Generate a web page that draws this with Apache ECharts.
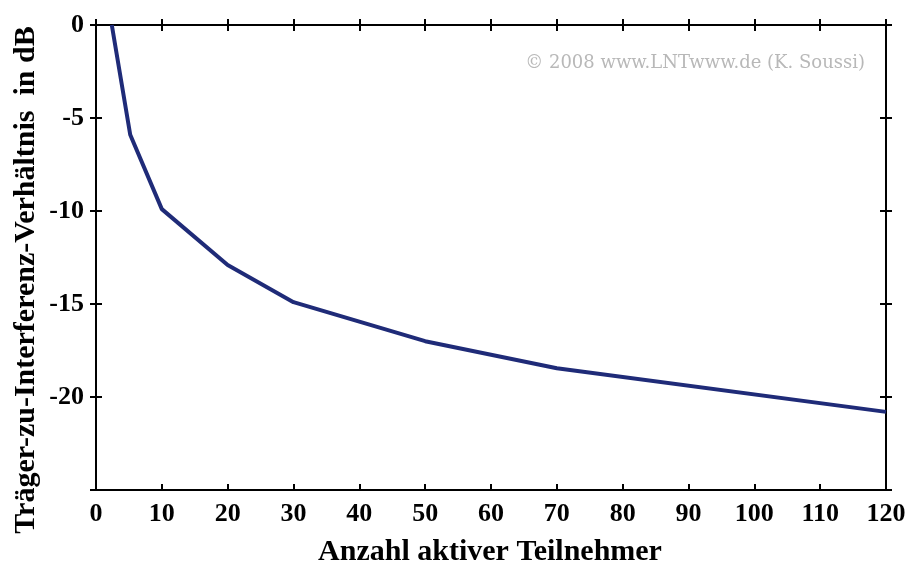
<!DOCTYPE html>
<html>
<head>
<meta charset="utf-8">
<script src="https://cdn.jsdelivr.net/npm/echarts@6/dist/echarts.min.js"></script>
<style>
  html, body { margin: 0; padding: 0; background: #fff; }
  #chart { width: 913px; height: 568px; }
</style>
</head>
<body>
<div id="chart"></div>
<script>
// Anzahl aktiver Teilnehmer (K)
var teilnehmer = [2.4, 5.2, 10, 20, 30, 50, 70, 120];
// C/I in dB
var ciDb = [0, -5.9, -9.9, -12.9, -14.9, -17.0, -18.45, -20.8];

var xTicks = [0, 10, 20, 30, 40, 50, 60, 70, 80, 90, 100, 110, 120];
var yTicks = [0, -5, -10, -15, -20];

var serif = '"Liberation Serif", "DejaVu Serif", serif';
var lineData = teilnehmer.map(function (k, i) { return [k, ciDb[i]]; });

var chart = echarts.init(document.getElementById('chart'));

function xAx(pos, inside, showLabel) {
  return {
    type: 'value', position: pos, min: 0, max: 120, interval: 10,
    axisLine: { show: true, onZero: false, lineStyle: { color: '#000', width: 2 } },
    axisTick: { show: true, inside: inside, length: 6, lineStyle: { color: '#000', width: 2 } },
    axisLabel: {
      show: showLabel, margin: 11, color: '#000', fontFamily: serif,
      fontWeight: 'bold', fontSize: 26,
      formatter: function (v) { return xTicks.indexOf(v) >= 0 ? String(v) : ''; }
    },
    splitLine: { show: false }
  };
}

function yAx(pos, inside, showLabel) {
  return {
    type: 'value', position: pos, min: -25, max: 0, interval: 5,
    axisLine: { show: true, onZero: false, lineStyle: { color: '#000', width: 2 } },
    axisTick: { show: true, inside: inside, length: 6, lineStyle: { color: '#000', width: 2 } },
    axisLabel: {
      show: showLabel, margin: 12, color: '#000', fontFamily: serif,
      fontWeight: 'bold', fontSize: 26,
      formatter: function (v) { return yTicks.indexOf(v) >= 0 ? String(v) : ''; }
    },
    splitLine: { show: false }
  };
}

var option = {
  animation: false,
  backgroundColor: '#fff',
  grid: { left: 96, right: 27, top: 25, bottom: 78, containLabel: false },
  xAxis: [
    xAx('bottom', true, true),
    xAx('top', true, false),
    xAx('top', false, false)
  ],
  yAxis: [
    yAx('left', false, true),
    yAx('left', true, false),
    yAx('right', true, false),
    yAx('right', false, false)
  ],
  graphic: [
    {
      type: 'text', x: 490, y: 552,
      style: {
        text: 'Anzahl aktiver Teilnehmer', fill: '#000',
        font: 'bold 30px ' + serif, textAlign: 'center', textVerticalAlign: 'middle'
      }
    },
    {
      type: 'text', x: 26, y: 280, rotation: Math.PI / 2,
      style: {
        text: 'Träger-zu-Interferenz-Verhältnis  in dB', fill: '#000',
        font: 'bold 30px ' + serif, textAlign: 'center', textVerticalAlign: 'middle'
      }
    },
    {
      type: 'text', x: 865, y: 63,
      style: {
        text: '© 2008 www.LNTwww.de (K. Soussi)', fill: '#b8b8b8',
        font: '18px "DejaVu Serif", serif', textAlign: 'right', textVerticalAlign: 'middle'
      }
    }
  ],
  series: [{
    type: 'line',
    data: lineData,
    xAxisIndex: 0,
    yAxisIndex: 0,
    showSymbol: false,
    smooth: false,
    lineStyle: { color: '#1f2b78', width: 4 }
  }]
};

chart.setOption(option);
</script>
</body>
</html>
